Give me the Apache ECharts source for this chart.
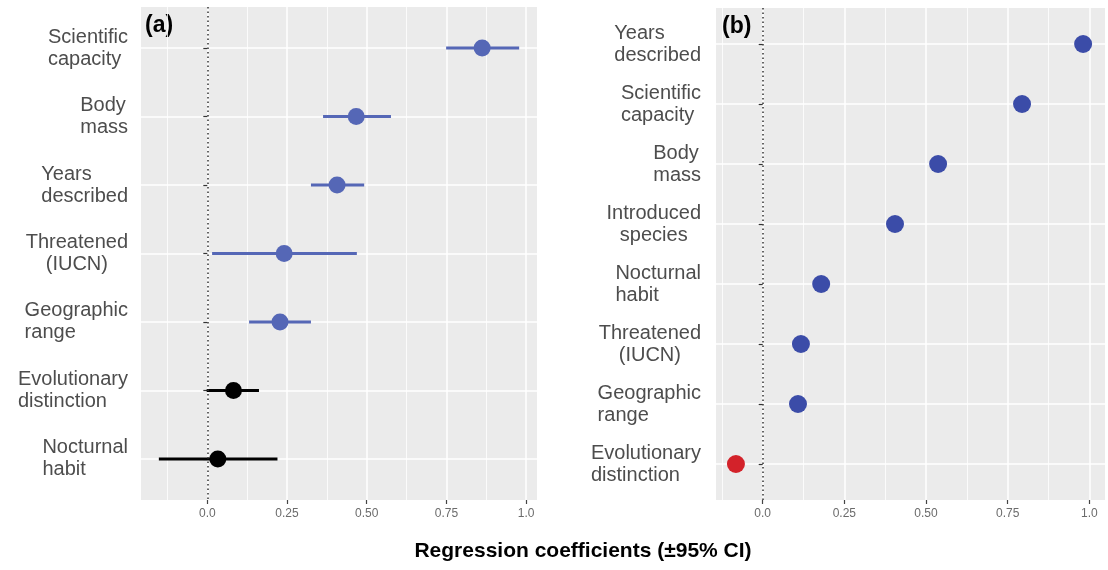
<!DOCTYPE html>
<html>
<head>
<meta charset="utf-8">
<script src="https://cdn.jsdelivr.net/npm/echarts@6/dist/echarts.min.js"></script>
<style>
html, body { margin: 0; padding: 0; background: #fff; }
#chart { width: 1108px; height: 570px; }
</style>
</head>
<body>
<div id="chart"></div>
<script>
// panel (a): estimates with 95% CI, listed top to bottom
const catsA = ['Scientific\ncapacity', 'Body\nmass', 'Years\ndescribed', 'Threatened\n(IUCN)',
  'Geographic\nrange', 'Evolutionary\ndistinction', 'Nocturnal\nhabit']
const estA = [0.862, 0.467, 0.407, 0.241, 0.228, 0.082, 0.033]
const loA = [0.749, 0.363, 0.325, 0.015, 0.131, -0.002, -0.152]
const hiA = [0.978, 0.576, 0.492, 0.469, 0.325, 0.162, 0.220]

// panel (b): estimates only
const catsB = ['Years\ndescribed', 'Scientific\ncapacity', 'Body\nmass', 'Introduced\nspecies',
  'Nocturnal\nhabit', 'Threatened\n(IUCN)', 'Geographic\nrange', 'Evolutionary\ndistinction']
const estB = [0.981, 0.794, 0.537, 0.405, 0.179, 0.117, 0.108, -0.082]

const xTicks = [0, 0.25, 0.5, 0.75, 1]
const xTickLabels = ['0.0', '0.25', '0.50', '0.75', '1.0']
const xMinor = [-0.125, 0.125, 0.375, 0.625, 0.875]

const FONT = '"Liberation Sans", Arial, sans-serif'
const labelStyle = { fontSize: 20, lineHeight: 22, color: '#4d4d4d', fontFamily: FONT }

function catLabel (name) {
  // most labels are left aligned, a couple are centred
  let key = (name.indexOf('(IUCN)') >= 0 || name.indexOf('Introduced') === 0) ? 'c' : 'l'
  return name.split('\n').map(s => '{' + key + '|' + s + '}').join('\n')
}

function yAxisFor (gridIndex, cats, margin) {
  let pos = cats.map((c, i) => i + 1)
  return {
    type: 'value',
    gridIndex: gridIndex,
    inverse: true,
    min: 0.4,
    max: cats.length + 0.6,
    axisLine: { show: false },
    axisTick: { show: true, length: 4, customValues: pos, lineStyle: { color: '#333', width: 1.2 } },
    axisLabel: {
      customValues: pos,
      margin: margin,
      formatter: v => catLabel(cats[Math.round(v) - 1]),
      rich: {
        l: Object.assign({ align: 'left' }, labelStyle),
        c: Object.assign({ align: 'center' }, labelStyle)
      }
    },
    splitLine: { show: true, lineStyle: { color: '#fff', width: 1.5 } }
  }
}

function xAxesFor (gridIndex, min, max) {
  return [{
    type: 'value',
    gridIndex: gridIndex,
    position: 'bottom',
    min: min,
    max: max,
    axisLine: { show: false },
    axisTick: { show: true, length: 4, customValues: xTicks, lineStyle: { color: '#444', width: 1.2 } },
    axisLabel: {
      customValues: xTicks,
      margin: 8,
      fontSize: 12,
      color: '#6b6b6b',
      fontFamily: FONT,
      formatter: v => xTickLabels[xTicks.findIndex(t => Math.abs(t - v) < 1e-6)]
    },
    splitLine: { show: true, lineStyle: { color: '#fff', width: 1.5 } }
  }, {
    // minor grid lines only
    type: 'value',
    gridIndex: gridIndex,
    position: 'top',
    min: min,
    max: max,
    axisLine: { show: false },
    axisTick: { show: false, customValues: xMinor },
    axisLabel: { show: false },
    splitLine: { show: true, lineStyle: { color: '#fff', width: 0.8 } }
  }]
}

const zeroLine = {
  silent: true,
  symbol: ['none', 'none'],
  label: { show: false },
  lineStyle: { type: [1.5, 3], color: '#333', width: 1.5 },
  data: [{ xAxis: 0 }]
}

const myChart = echarts.init(document.getElementById('chart'))

const option = {
  animation: false,
  grid: [
    { left: 141, right: 571, top: 7, bottom: 70, show: true, backgroundColor: '#ebebeb', borderWidth: 0 },
    { left: 716, right: 3, top: 8, bottom: 70, show: true, backgroundColor: '#ebebeb', borderWidth: 0 }
  ],
  xAxis: xAxesFor(0, -0.208, 1.034).concat(xAxesFor(1, -0.143, 1.048)),
  yAxis: [yAxisFor(0, catsA, 13), yAxisFor(1, catsB, 15)],
  graphic: [
    { type: 'text', x: 145, y: 26, style: { text: '(a)', align: 'left', verticalAlign: 'middle', font: 'bold 23px ' + FONT, fill: '#000' } },
    { type: 'text', x: 722, y: 27, style: { text: '(b)', align: 'left', verticalAlign: 'middle', font: 'bold 23px ' + FONT, fill: '#000' } },
    { type: 'text', x: 583, y: 551, style: { text: 'Regression coefficients (±95% CI)', align: 'center', verticalAlign: 'middle', font: 'bold 21px ' + FONT, fill: '#000' } }
  ],
  series: [
    {
      type: 'custom',
      xAxisIndex: 0,
      yAxisIndex: 0,
      data: loA.map((lo, i) => [lo, hiA[i], i + 1]),
      renderItem (params, api) {
        let lo = api.value(0)
        let p1 = api.coord([lo, api.value(2)])
        let p2 = api.coord([api.value(1), api.value(2)])
        return {
          type: 'line',
          shape: { x1: p1[0], y1: p1[1], x2: p2[0], y2: p2[1] },
          style: { stroke: lo <= 0 ? '#000' : '#5567b6', lineWidth: 3 }
        }
      },
      markLine: zeroLine
    },
    {
      type: 'scatter',
      xAxisIndex: 0,
      yAxisIndex: 0,
      symbolSize: 17,
      data: estA.map((v, i) => [v, i + 1, loA[i]]),
      itemStyle: { opacity: 1, color: p => p.data[2] <= 0 ? '#000' : '#5567b6' }
    },
    {
      type: 'scatter',
      xAxisIndex: 2,
      yAxisIndex: 1,
      symbolSize: 18,
      data: estB.map((v, i) => [v, i + 1]),
      itemStyle: { opacity: 1, color: p => p.data[0] < 0 ? '#d3222a' : '#3b4ca8' },
      markLine: zeroLine
    }
  ]
}
myChart.setOption(option)
</script>
</body>
</html>
